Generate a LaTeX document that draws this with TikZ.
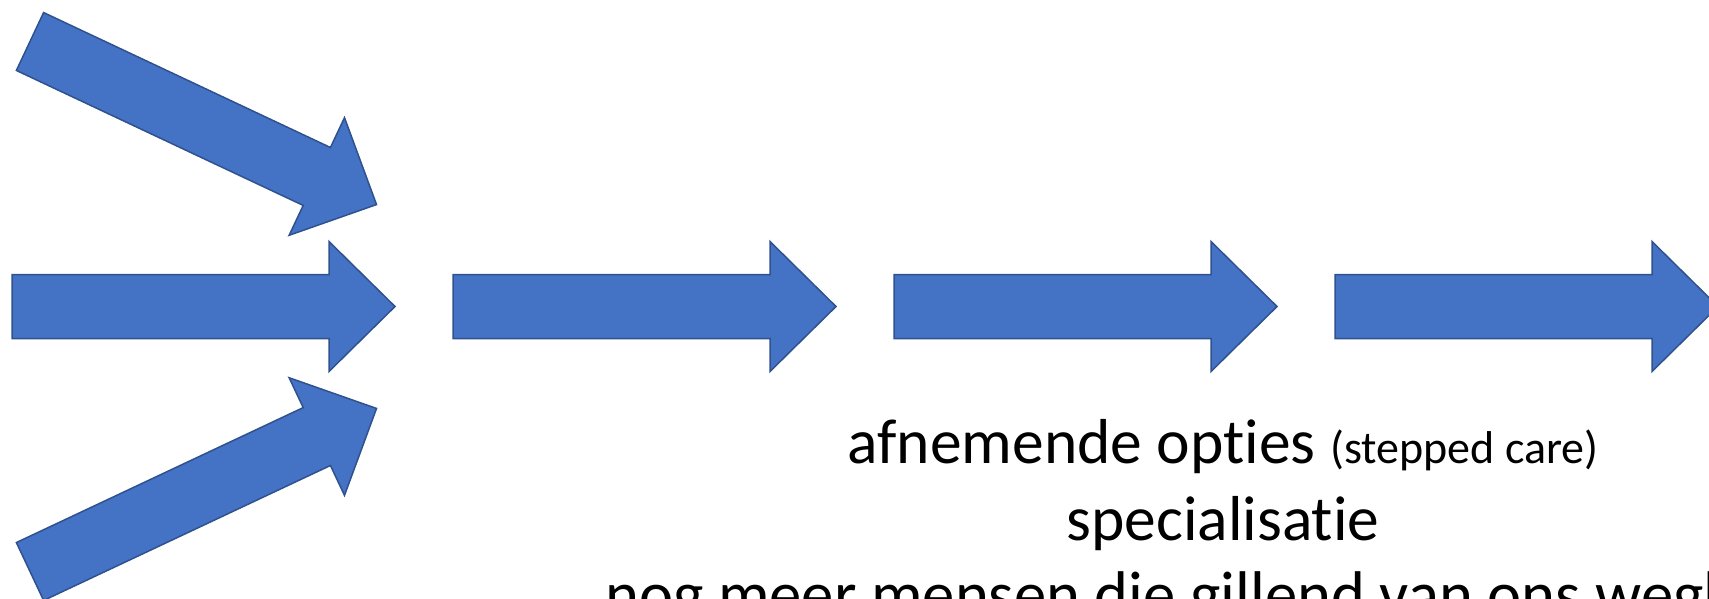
\documentclass[tikz,border=0pt]{standalone}
\usepackage{fontspec}
\setmainfont{Carlito}[Ligatures=NoCommon,RawFeature={-liga;-dlig;-clig}]
\definecolor{arrowblue}{HTML}{4472C4}
\definecolor{arrowedge}{HTML}{2F528F}
\begin{document}
\begin{tikzpicture}[x=1pt,y=-1pt,
  bigarrow/.style={fill=arrowblue,draw=arrowedge,line width=1.5pt,line join=miter},
  lbl/.style={inner sep=0pt,font=\fontsize{63.5}{75}\selectfont},
  pics/blockarrow/.style={code={
    \draw[bigarrow] (0,-32) -- (317,-32) -- (317,-65) -- (383,0) -- (317,65) -- (317,32) -- (0,32) -- cycle;}}]
\useasboundingbox (0,0) rectangle (1709,598);
% converging arrows
\pic[rotate=-25.2] at (30,41.5) {blockarrow};
\pic at (12,306.5) {blockarrow};
\pic[rotate=25.2] at (30,571.5) {blockarrow};
% row of arrows
\pic at (453,306.5) {blockarrow};
\pic at (894,306.5) {blockarrow};
\pic at (1335,306.5) {blockarrow};
% text
\node[lbl,anchor=base] (l1) at (1223,463) {afnemende opties {\fontsize{46}{52}\selectfont (stepped care)}};
\node[lbl,anchor=base] (l2) at (1223,540) {specialisatie};
\node[lbl,anchor=base west,font=\fontsize{64.6}{76}\selectfont] (l3) at (605,616) {nog meer mensen die gillend van ons weglopen};
\end{tikzpicture}
\end{document}
